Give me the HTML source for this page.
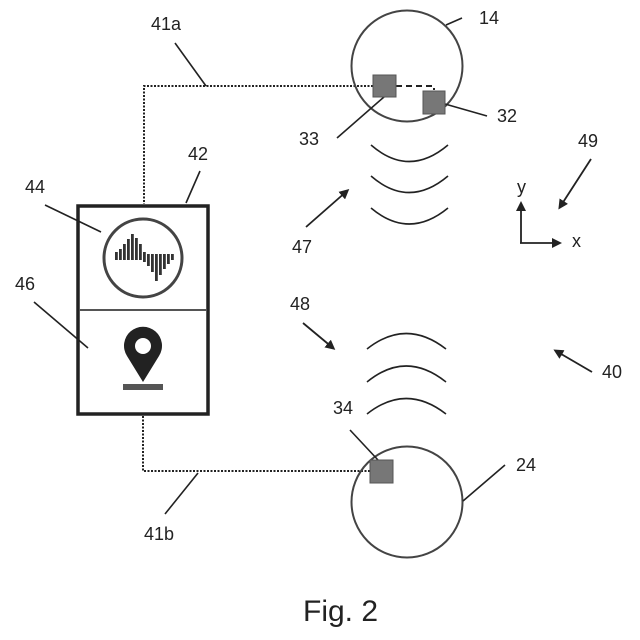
<!DOCTYPE html>
<html><head><style>html,body{margin:0;padding:0;background:#fff}svg{display:block}text{font-family:"Liberation Sans",sans-serif;fill:#222}</style></head>
<body>
<svg width="640" height="640" viewBox="0 0 640 640" xmlns="http://www.w3.org/2000/svg">
<defs><marker id="a" markerWidth="10" markerHeight="10" refX="7" refY="5" orient="auto" markerUnits="userSpaceOnUse"><path d="M0,0 L10,5 L0,10 z" fill="#222"/></marker></defs>
<g fill="none" stroke="#222">
<path d="M373,86 H144 V204" stroke-width="2" stroke-dasharray="2,1.5"/>
<path d="M370,471 H143 V416" stroke-width="2" stroke-dasharray="2,1.5"/>
<circle cx="407" cy="66" r="55.5" stroke-width="2" stroke="#444"/>
<circle cx="407" cy="502" r="55.5" stroke-width="2" stroke="#444"/>
<path d="M396,86 H434 V90" stroke-width="2" stroke-dasharray="6,4"/>
<rect x="78" y="206" width="130" height="208" stroke-width="3.5"/>
<line x1="79" y1="310" x2="207" y2="310" stroke-width="2" stroke="#555"/>
<circle cx="143" cy="258" r="39" stroke-width="3" stroke="#444"/>
<path d="M371,145 Q409,178 448,145" stroke-width="1.6"/>
<path d="M371,176 Q409,209 448,176" stroke-width="1.6"/>
<path d="M371,208 Q409,240 448,208" stroke-width="1.6"/>
<path d="M367,349 Q406,318 446,349" stroke-width="1.6"/>
<path d="M367,382 Q406,350 446,382" stroke-width="1.6"/>
<path d="M367,414 Q406,383 446,414" stroke-width="1.6"/>
<line x1="175" y1="43" x2="206" y2="86" stroke-width="1.6"/>
<line x1="200" y1="171" x2="186" y2="203" stroke-width="1.6"/>
<line x1="45" y1="205" x2="101" y2="232" stroke-width="1.6"/>
<line x1="34" y1="302" x2="88" y2="348" stroke-width="1.6"/>
<line x1="446" y1="25" x2="462" y2="18" stroke-width="1.6"/>
<line x1="337" y1="138" x2="384" y2="97" stroke-width="1.6"/>
<line x1="445" y1="104" x2="487" y2="116" stroke-width="1.6"/>
<line x1="350" y1="430" x2="378" y2="460" stroke-width="1.6"/>
<line x1="463" y1="501" x2="505" y2="465" stroke-width="1.6"/>
<line x1="165" y1="514" x2="198" y2="473" stroke-width="1.6"/>
<line x1="306" y1="227" x2="347" y2="191" stroke-width="1.8" marker-end="url(#a)"/>
<line x1="303" y1="323" x2="333" y2="348" stroke-width="1.8" marker-end="url(#a)"/>
<line x1="591" y1="159" x2="560" y2="207" stroke-width="1.8" marker-end="url(#a)"/>
<line x1="592" y1="372" x2="556" y2="351" stroke-width="1.8" marker-end="url(#a)"/>
<line x1="521" y1="243" x2="521" y2="204" stroke-width="1.8" marker-end="url(#a)"/>
<line x1="520" y1="243" x2="559" y2="243" stroke-width="1.8" marker-end="url(#a)"/>
</g>
<rect x="373" y="75" width="23" height="22" fill="#777" stroke="#555"/>
<rect x="423" y="91" width="22" height="23" fill="#777" stroke="#555"/>
<rect x="370" y="460" width="23" height="23" fill="#777" stroke="#555"/>
<g fill="#333">
<rect x="115" y="252" width="2.8" height="8"/>
<rect x="119" y="249" width="2.8" height="11"/>
<rect x="123" y="244" width="2.8" height="16"/>
<rect x="127" y="239" width="2.8" height="21"/>
<rect x="131" y="234" width="2.8" height="26"/>
<rect x="135" y="238" width="2.8" height="22"/>
<rect x="139" y="244" width="2.8" height="16"/>
<rect x="143" y="252" width="2.8" height="10"/>
<rect x="147" y="254" width="2.8" height="12"/>
<rect x="151" y="254" width="2.8" height="18"/>
<rect x="155" y="254" width="2.8" height="27"/>
<rect x="159" y="254" width="2.8" height="21"/>
<rect x="163" y="254" width="2.8" height="15"/>
<rect x="167" y="254" width="2.8" height="10"/>
<rect x="171" y="254" width="2.8" height="6"/>
</g>
<path d="M143,382 L127,356 A19,19 0 1 1 159,356 Z" fill="#222"/>
<circle cx="143" cy="346" r="8" fill="#fff"/>
<rect x="123" y="384" width="40" height="6" fill="#555"/>
<g font-size="18">
<text x="151" y="30">41a</text>
<text x="188" y="160">42</text>
<text x="25" y="193">44</text>
<text x="15" y="290">46</text>
<text x="479" y="24">14</text>
<text x="299" y="145">33</text>
<text x="497" y="122">32</text>
<text x="578" y="147">49</text>
<text x="517" y="193">y</text>
<text x="572" y="247">x</text>
<text x="292" y="253">47</text>
<text x="290" y="310">48</text>
<text x="602" y="378">40</text>
<text x="333" y="414">34</text>
<text x="516" y="471">24</text>
<text x="144" y="540">41b</text>
</g>
<text x="303" y="621" font-size="30">Fig. 2</text>
</svg>
</body></html>
